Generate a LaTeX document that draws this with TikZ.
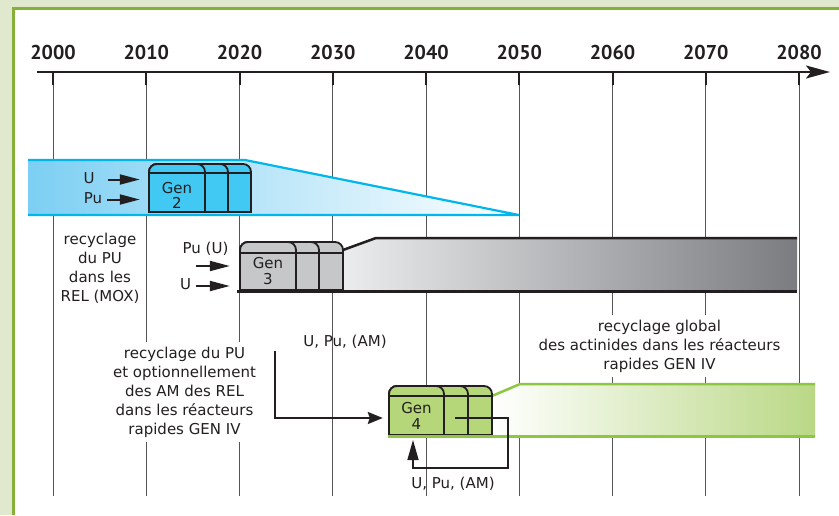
\documentclass[tikz,border=0pt]{standalone}
\usepackage{fontspec}
\setmainfont{PT Sans}
\newfontfamily\labelfont{DejaVu Sans}
\usetikzlibrary{arrows.meta}

\definecolor{ink}{HTML}{231F20}
\definecolor{gridgray}{HTML}{555555}
\definecolor{outside}{HTML}{E0E9CD}
\definecolor{frame}{HTML}{86B03A}
\definecolor{cyanline}{HTML}{00B6ED}
\definecolor{gentwo}{HTML}{41C8F3}
\definecolor{bandtwo}{HTML}{7CCFF3}
\definecolor{genthree}{HTML}{C6C7C9}
\definecolor{bandthreeL}{HTML}{EBECED}
\definecolor{bandthreeR}{HTML}{7B7C80}
\definecolor{genfour}{HTML}{B5D77A}
\definecolor{greenline}{HTML}{8DC63F}
\definecolor{bandfour}{HTML}{BAD886}

\begin{document}
\begin{tikzpicture}[x=1pt,y=-1pt,
    year/.style={font=\fontsize{20}{24}\selectfont\bfseries, text=ink, anchor=base, inner sep=0pt},
    lbl/.style={font=\labelfont\fontsize{15}{19}\selectfont, text=ink, align=center, inner sep=0pt},
    gentxt/.style={font=\labelfont\fontsize{15}{15.5}\selectfont, text=ink, align=center, inner sep=0pt},
    genline/.style={draw=ink, line width=1.8pt},
    arr/.style={draw=ink, line width=2pt, -{Triangle[length=20pt,width=10pt]}},
    grid/.style={draw=gridgray, line width=1pt},
  ]
  % page and frame
  \useasboundingbox (0,0) rectangle (839,515);
  \fill[outside] (0,0) rectangle (839,515);
  \fill[white] (14,9) rectangle (839,515);
  \draw[frame, line width=2.5pt] (13.25,515) -- (13.25,8.25) -- (839,8.25);

  % years, ticks and grid lines
  \foreach \yr [count=\i from 0] in {2000,2010,...,2080}{
    \node[year] (y\yr) at (53+93.25*\i,59) {\yr};
    \draw[grid] (53+93.25*\i,72) -- (53+93.25*\i,496);
    \draw[ink, line width=2pt] (53+93.25*\i,72) -- (53+93.25*\i,85);
  }
  \draw[ink, line width=2pt, -{Stealth[length=24pt,width=13pt,inset=5pt]}] (37,72) -- (830,72);

  % Gen 2 band
  \shade[left color=bandtwo, right color=white] (28,160) -- (245,160) -- (519,215) -- (28,215) -- cycle;
  \draw[cyanline, line width=2.2pt] (28,160) -- (245,160) -- (519,215) -- (28,215);
  \foreach \w in {102,79,56}
    \filldraw[genline, fill=gentwo] (149,212) [rounded corners=8pt] -- (149,164) -- (149+\w,164) [sharp corners] -- (149+\w,212) -- cycle;
  \draw[genline] (149,173) -- (251,173);
  \node[gentxt, minimum width=56pt] (gen2) at (177,195.5) {Gen\\2};

  % Gen 3 band
  \shade[left color=bandthreeL, right color=bandthreeR] (343,250) -- (376,238) -- (797,238) -- (797,291) -- (343,291) -- cycle;
  \draw[ink, line width=2.5pt] (343,250) -- (376,238) -- (797,238);
  \foreach \w in {103,79,56}
    \filldraw[genline, fill=genthree] (240,290) [rounded corners=8pt] -- (240,242) -- (240+\w,242) [sharp corners] -- (240+\w,290) -- cycle;
  \draw[genline] (240,253) -- (343,253);
  \draw[ink, line width=3pt] (237,291) -- (797,291);
  \node[gentxt, minimum width=56pt] (gen3) at (268,271) {Gen\\3};

  % Gen 4 band
  \shade[left color=white, right color=bandfour] (492,396) -- (520,384) -- (815,384) -- (815,436) -- (492,436) -- cycle;
  \draw[greenline, line width=2.5pt] (492,396) -- (520,384) -- (815,384);
  \foreach \w in {103,79,55}
    \filldraw[genline, fill=genfour] (389,435) [rounded corners=8pt] -- (389,386) -- (389+\w,386) [sharp corners] -- (389+\w,435) -- cycle;
  \draw[genline] (389,396) -- (492,396);
  \draw[greenline, line width=2.5pt] (388,436.5) -- (815,436.5);
  \node[gentxt, minimum width=55pt] (gen4) at (416.5,416) {Gen\\4};

  % inputs
  \node[lbl] (u2) at (89,178.5) {U};
  \node[lbl] (pu2) at (93,198) {Pu};
  \draw[arr, shorten >=9pt] ([xshift=13pt]u2.east |- 0,179.5) -- (gen2.west |- 0,179.5);
  \draw[arr, shorten >=9pt] ([xshift=5pt]pu2.east |- 0,199.5) -- (gen2.west |- 0,199.5);

  \node[lbl] (pu3) at (205.5,249) {Pu (U)};
  \node[lbl] (u3) at (185.5,284.5) {U};
  \coordinate (pu3in) at (196,266);
  \draw[arr, shorten >=10pt] (pu3in) -- (pu3in -| gen3.west);
  \draw[arr, shorten >=10pt] ([xshift=5pt]u3.east |- 0,286) -- (gen3.west |- 0,286);

  % texts
  \node[lbl] (mox) at (100,268) {recyclage\\du PU\\dans les\\REL (MOX)};
  \node[lbl, fill=white, inner sep=5pt] (rapid) at (184.5,392) {recyclage du PU\\et optionnellement\\des AM des REL\\dans les réacteurs\\rapides GEN IV};
  \node[lbl, fill=white, inner sep=5pt] (global) at (659.5,346) {recyclage global\\des actinides dans les réacteurs\\rapides GEN IV};
  \node[lbl] (feedlbl) at (345,342) {U, Pu, (AM)};
  \node[lbl] (looplbl) at (453,484) {U, Pu, (AM)};

  % feed into Gen 4 and the loop
  \coordinate (feed) at (275,351);
  \draw[ink, line width=2pt, -{Stealth[length=15pt,width=12pt,inset=2pt]}, shorten >=6pt] (feed) |- (gen4.west |- 0,418);
  \coordinate (loopin) at (455,418);
  \draw[ink, line width=1.6pt, -{Triangle[length=20pt,width=11pt]}, shorten >=5pt] (loopin) -| (508,468) -| (413,435);
\end{tikzpicture}
\end{document}
